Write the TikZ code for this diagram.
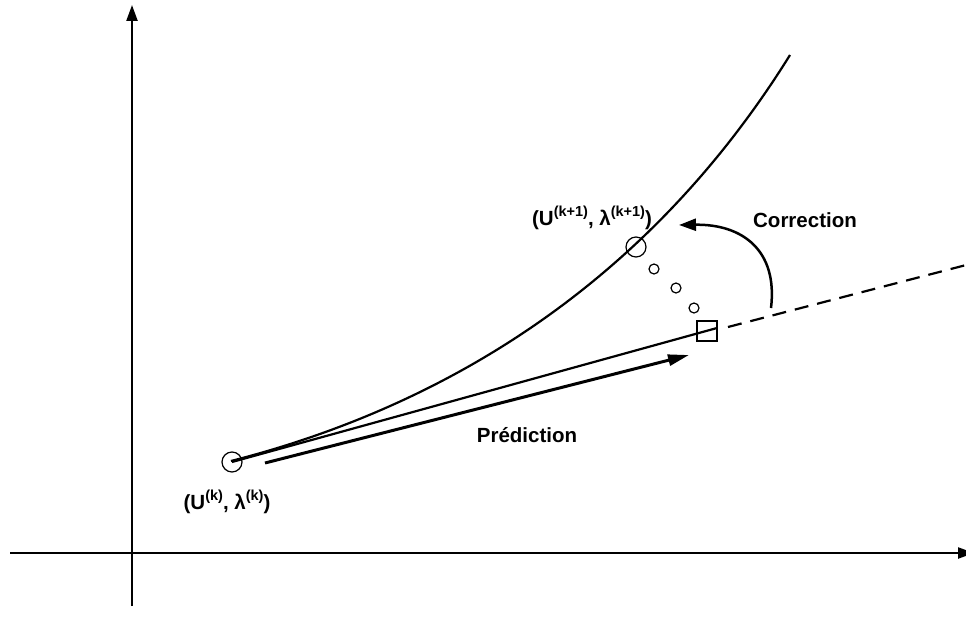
\documentclass[tikz,border=0pt]{standalone}
\usepackage{fontspec}
\setmainfont{Liberation Sans}
\usetikzlibrary{arrows.meta}
\tikzset{
  lbl/.style={font=\fontsize{20.5}{23}\selectfont\bfseries, inner sep=0pt, anchor=base},
  pt/.style={circle, draw, line width=1.2pt, inner sep=0pt},
  axis/.style={line width=2.3pt, -{Triangle[length=16pt,width=11pt]}},
}
\newcommand{\sps}[1]{\raisebox{0.42em}{\fontsize{14.5}{15}\selectfont #1}}
\begin{document}
\begin{tikzpicture}[x=1pt,y=-1pt]
\useasboundingbox (0,0) rectangle (966,623);
\clip (0,0) rectangle (966,623);
% axes
\coordinate (yb) at (132,606);
\coordinate (yt) at (132,5);
\coordinate (xl) at (10,553);
\coordinate (xr) at (974,553);
\draw[axis] (yb) -- (yt);
\draw[axis] (xl) -- (xr);
% points
\node[pt, minimum size=20pt] (A) at (232,462) {};
\node[pt, minimum size=20pt] (B) at (636,247) {};
\node[pt, minimum size=10pt] (c1) at (654,269) {};
\node[pt, minimum size=10pt] (c2) at (676,288) {};
\node[pt, minimum size=10pt] (c3) at (694,308) {};
\node[draw, line width=1.2pt, minimum size=20pt, inner sep=0pt] (Q) at (707,331) {};
\coordinate (Qr) at (717,328);
\coordinate (Qd) at (728,327);
\coordinate (D) at (970,264);
% curve
\coordinate (c0) at (231,461);
\coordinate (cT) at (790,55);
\draw[line width=2.2pt] (c0) .. controls (450,405) and (650,280) .. (cT);
% prediction line & dashed continuation
\draw[line width=2.2pt] (A.center) -- (Qr);
\draw[line width=2.2pt, dash pattern=on 14pt off 9pt] (Qd) -- (D);
% prediction arrow
\coordinate (ps) at (265,463);
\coordinate (pe) at (689,355);
\draw[line width=3pt, -{Triangle[length=21pt,width=11pt]}] (ps) -- (pe);
% correction arrow
\coordinate (cs) at (771,308);
\coordinate (ce) at (679,225);
\draw[line width=2.5pt, -{Triangle[length=17pt,width=12pt]}] (cs) .. controls (778,250) and (742,224) .. (ce);
% labels
\node[lbl] (lk1) at (592,225) {(U\sps{(k+1)}, λ\sps{(k+1)})};
\node[lbl] (lk) at (227,509) {(U\sps{(k)}, λ\sps{(k)})};
\node[lbl] (lc) at (805,227) {Correction};
\node[lbl] (lp) at (527,442) {Prédiction};
\end{tikzpicture}
\end{document}
